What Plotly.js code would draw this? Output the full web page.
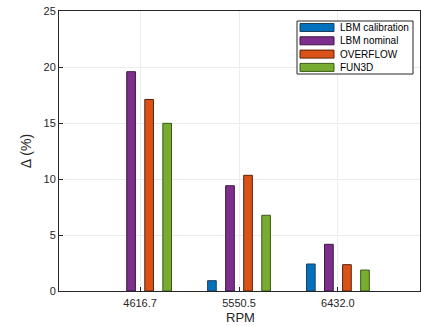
<!DOCTYPE html>
<html>
<head>
<meta charset="utf-8">
<script src="https://cdn.plot.ly/plotly-3.0.1.min.js"></script>
<style>html,body{margin:0;padding:0;background:#fff;}#chart{width:421px;height:326px;}</style>
</head>
<body>
<div id="chart"></div>
<script>
const categories = ["4616.7", "5550.5", "6432.0"];
const seriesNames = ["LBM calibration", "LBM nominal", "OVERFLOW", "FUN3D"];
const lbmCalibration = [null, 0.92, 2.41];
const lbmNominal = [19.58, 9.4, 4.17];
const overflow = [17.1, 10.33, 2.35];
const fun3d = [14.97, 6.76, 1.87];
const yTicks = [0, 5, 10, 15, 20, 25];
const xTitle = "RPM";
const yTitle = "Δ (%)";

const colors = ["#0072BD", "#7E2F8E", "#D95319", "#77AC30"];
const edges = ["#1f3f5f", "#3a1540", "#5a2008", "#3a5a18"];
const values = [lbmCalibration, lbmNominal, overflow, fun3d];

const traces = values.map((v, i) => ({
  type: "bar",
  name: seriesNames[i],
  x: categories,
  y: v,
  marker: {color: colors[i], line: {color: edges[i], width: 1}},
  showlegend: false,
  hoverinfo: "skip"
}));

const fam = "Liberation Sans, Arial, sans-serif";
const textCol = "#262626";

// plot area geometry (pixels) used to place the custom legend box
const W = 421, H = 326, mL = 59, mR = 1, mT = 11, mB = 35;
const pw = W - mL - mR, ph = H - mT - mB;
const px = x => (x - mL) / pw;
const py = y => (H - mB - y) / ph;

const shapes = [{
  type: "rect", xref: "paper", yref: "paper",
  x0: px(297), x1: px(413), y0: py(74), y1: py(21),
  fillcolor: "#fff", line: {color: textCol, width: 1}, layer: "above"
}];
const annotations = [];
seriesNames.forEach((name, i) => {
  const cy = 27.5 + 13.3 * i;
  shapes.push({
    type: "rect", xref: "paper", yref: "paper",
    x0: px(300), x1: px(334), y0: py(cy + 4), y1: py(cy - 4),
    fillcolor: colors[i], line: {color: edges[i], width: 1}, layer: "above"
  });
  annotations.push({
    xref: "paper", yref: "paper", x: px(338), y: py(cy),
    xanchor: "left", yanchor: "middle", showarrow: false,
    text: name, font: {family: fam, size: 10, color: "#000"}
  });
});
// x-axis title placed as annotation at the very bottom of the figure
annotations.push({
  xref: "paper", yref: "paper", x: px(240), y: py(325.5),
  xanchor: "center", yanchor: "bottom", showarrow: false, borderpad: 0,
  text: xTitle, font: {family: fam, size: 13, color: textCol}
});

const layout = {
  width: W, height: H,
  margin: {l: mL, r: mR, t: mT, b: mB, pad: 0},
  paper_bgcolor: "#fff", plot_bgcolor: "#fff",
  barmode: "group",
  bargap: 0.27,
  bargroupgap: 0.52,
  font: {family: fam, color: textCol},
  showlegend: false,
  shapes: shapes,
  annotations: annotations,
  xaxis: {
    type: "category",
    range: [-0.82, 2.83],
    showgrid: true, gridcolor: "#ececec", gridwidth: 1,
    showline: true, linecolor: textCol, linewidth: 1, mirror: true,
    ticks: "inside", ticklen: 4, tickcolor: textCol,
    ticklabelstandoff: 2,
    tickfont: {size: 11, color: textCol, family: fam},
    automargin: false,
    zeroline: false, fixedrange: true
  },
  yaxis: {
    range: [0, 25],
    tickvals: yTicks,
    ticktext: yTicks.map(String),
    showgrid: true, gridcolor: "#ececec", gridwidth: 1,
    showline: true, linecolor: textCol, linewidth: 1, mirror: true,
    ticks: "inside", ticklen: 4, tickcolor: textCol,
    tickfont: {size: 11, color: textCol, family: fam},
    title: {text: yTitle, font: {size: 14, color: textCol, family: fam}, standoff: 8},
    zeroline: false, fixedrange: true
  }
};

Plotly.newPlot("chart", traces, layout, {displayModeBar: false, staticPlot: true});
</script>
</body>
</html>
